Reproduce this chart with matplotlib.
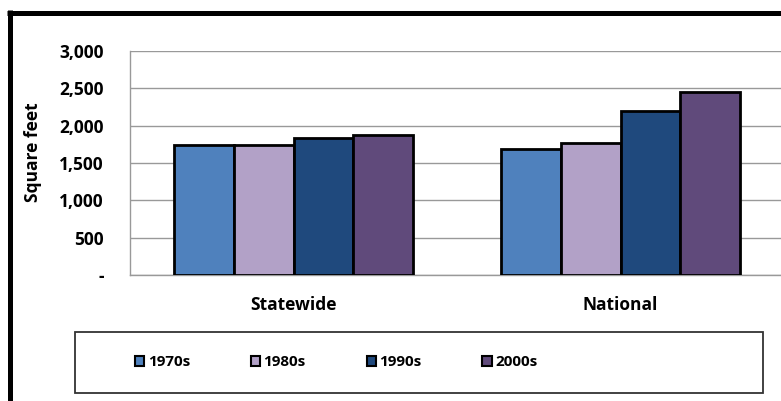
import matplotlib
matplotlib.use("Agg")
import matplotlib.pyplot as plt
from matplotlib.lines import Line2D
from matplotlib.patches import Rectangle
from matplotlib.ticker import FixedLocator, FuncFormatter
import numpy as np

# Average new-home size (square feet) by decade
regions = ["Statewide", "National"]
decades = ["1970s", "1980s", "1990s", "2000s"]
statewide = [1740, 1740, 1830, 1870]
national = [1685, 1765, 2190, 2455]
colors = ["#4F81BD", "#B2A1C7", "#1F497D", "#604A7B"]
yticks = [0, 500, 1000, 1500, 2000, 2500, 3000]

plt.rcParams["font.family"] = ["Open Sans", "DejaVu Sans"]
plt.rcParams["font.weight"] = "bold"

W, H = 781, 401
fig = plt.figure(figsize=(W / 100, H / 100), dpi=100)
fig.patch.set_facecolor("white")

ax = fig.add_axes([130 / W, 1 - 275 / H, 654 / W, 224 / H])

values = np.array([statewide, national])
x = np.arange(len(regions))
bw = 0.183
for i, dec in enumerate(decades):
    ax.bar(x + (i - 1.5) * bw, values[:, i], width=bw, color=colors[i],
           edgecolor="black", linewidth=2.0, label=dec, zorder=3)

ax.set_xlim(-0.5, 1.5)
ax.set_ylim(0, 3000)
ax.yaxis.set_major_locator(FixedLocator(yticks))
ax.yaxis.set_major_formatter(FuncFormatter(lambda v, p: "-" if v == 0 else f"{int(v):,}"))
ax.set_xticks(x)
ax.set_xticklabels(regions, fontsize=12.5, fontweight="bold")
ax.tick_params(axis="y", length=0, pad=19, labelsize=12.5)
ax.tick_params(axis="x", length=0, pad=15)
for lab in ax.get_yticklabels():
    lab.set_fontweight("bold")

ax.grid(axis="y", color="#999999", linewidth=1.0, zorder=0)
for s in ["top", "right"]:
    ax.spines[s].set_visible(False)
for s in ["left", "bottom"]:
    ax.spines[s].set_color("#999999")
    ax.spines[s].set_linewidth(1.0)

ax.set_ylabel("Square feet", fontsize=12.5, fontweight="bold")
ax.yaxis.set_label_coords((42 - 130) / 654, (275 - 152) / 224)

# legend box
fig.patches.append(Rectangle((75 / W, 1 - 393 / H), (763 - 75) / W, (393 - 332) / H,
                             transform=fig.transFigure, facecolor="none",
                             edgecolor="#333333", linewidth=1.3))
handles = [Rectangle((0, 0), 1, 1, facecolor=c, edgecolor="black", linewidth=1.5) for c in colors]
fig.legend(handles, decades, loc="center left", bbox_to_anchor=(121 / W, 1 - 362 / H),
           ncol=4, frameon=False, handlelength=0.6, handleheight=0.65,
           handletextpad=0.25, columnspacing=3.97, prop={"weight": "bold", "size": 11})

# outer frame on left and top
fig.add_artist(Line2D([9.5 / W, 9.5 / W], [0, 1 - 10 / H], transform=fig.transFigure,
                      color="black", linewidth=3.6, solid_capstyle="butt"))
fig.add_artist(Line2D([7 / W, 1], [1 - 12.5 / H, 1 - 12.5 / H], transform=fig.transFigure,
                      color="black", linewidth=3.6, solid_capstyle="butt"))

fig.savefig("out.png", dpi=100)
